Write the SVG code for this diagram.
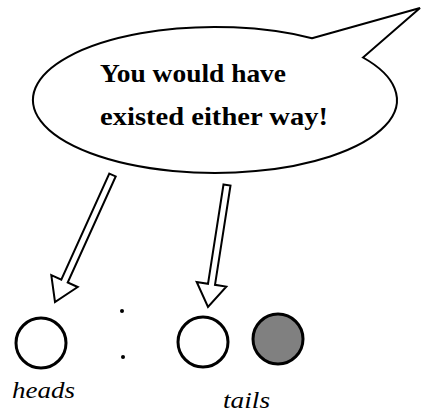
<svg xmlns="http://www.w3.org/2000/svg" width="422" height="415" viewBox="0 0 422 415">
<style>
.line{fill:#fff;stroke:#000;stroke-width:2;stroke-linejoin:miter}
.coin{stroke:#000;stroke-width:3}
.say{font-family:'Liberation Serif','Times New Roman',serif;font-weight:bold;font-size:25px;fill:#000}
.lbl{font-family:'Liberation Serif','Times New Roman',serif;font-style:italic;font-size:24px;fill:#000}
</style>
<rect width="422" height="415" fill="#fff"/>
<g id="bubble">
<path class="line" d="M312 38.2 L420 8 L363 57.5 A182 73 0 1 1 312 38.2 Z"/>
<text class="say" x="100" y="82" textLength="186" lengthAdjust="spacingAndGlyphs">You would have</text>
<text class="say" x="100" y="125" textLength="228" lengthAdjust="spacingAndGlyphs">existed either way!</text>
</g>
<g id="connectors">
<polygon class="line" points="109.3,173.6 115.7,176.4 67.7,282.5 77.7,287 55,302 51.3,275.1 61.3,279.6"/>
<polygon class="line" points="223.5,184.5 230.5,185.5 215,284.8 226.3,286.6 208,307 196.7,282 208,283.8"/>
</g>
<g id="heads">
<circle class="coin" cx="41" cy="343" r="25" fill="#fff"/>
<text class="lbl" x="12" y="398" textLength="63" lengthAdjust="spacingAndGlyphs">heads</text>
</g>
<g id="dots">
<circle cx="122" cy="311" r="2" fill="#000"/>
<circle cx="123" cy="357" r="2" fill="#000"/>
</g>
<g id="tails">
<circle class="coin" cx="203" cy="342" r="25" fill="#fff"/>
<text class="lbl" x="223" y="408" textLength="47" lengthAdjust="spacingAndGlyphs">tails</text>
</g>
<g id="tails-gray">
<circle class="coin" cx="278" cy="339" r="25" fill="#808080"/>
</g>
</svg>
